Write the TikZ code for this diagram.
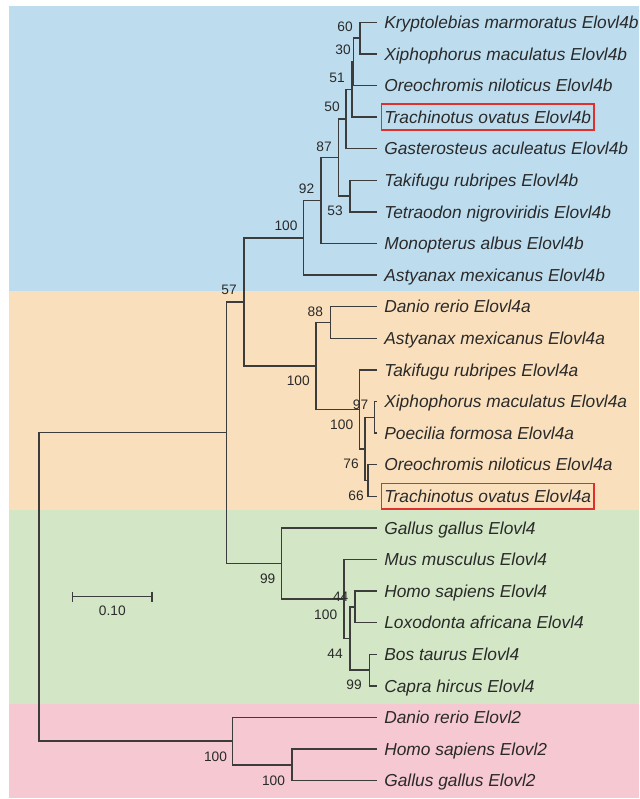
\documentclass[tikz,border=0pt]{standalone}
\usepackage{fontspec}
\setmainfont{Liberation Sans}
\usetikzlibrary{arrows.meta}

\definecolor{PTblue}{HTML}{BDDDEF}
\definecolor{PTorange}{HTML}{FADFBC}
\definecolor{PTgreen}{HTML}{D3E7C6}
\definecolor{PTpink}{HTML}{F5C8D2}
\definecolor{PTline}{HTML}{3C3C3C}
\definecolor{PTtext}{HTML}{2A2A2A}
\definecolor{PTred}{HTML}{E0302C}

\tikzset{PTbr/.style={draw=PTline,line width=1.1pt},
         PTleaf/.style={anchor=west,xshift=3.4pt,inner xsep=1.9pt,inner ysep=4.7pt,
                        text height=9.4pt,text depth=0pt,text=PTtext,
                        font=\fontsize{13}{15}\selectfont\itshape},
         PTbs/.style={inner sep=0pt,text=PTtext,font=\fontsize{10.3}{12}\selectfont},
         PTbox/.style={draw=PTred,line width=1.4pt}}

\begin{document}
\begin{tikzpicture}[x=0.75pt,y=-0.75pt]
  \useasboundingbox (0,0) rectangle (639,799);
  % coloured groups
  \fill[PTblue] (9,6) rectangle (639,291);
  \fill[PTorange] (9,291) rectangle (639,510);
  \fill[PTgreen] (9,510) rectangle (639,704);
  \fill[PTpink] (9,704) rectangle (639,798);
  % leaves
  \foreach \n [count=\i] in {Kryptolebias marmoratus Elovl4b, Xiphophorus maculatus Elovl4b,
      Oreochromis niloticus Elovl4b, Trachinotus ovatus Elovl4b, Gasterosteus aculeatus Elovl4b,
      Takifugu rubripes Elovl4b, Tetraodon nigroviridis Elovl4b, Monopterus albus Elovl4b,
      Astyanax mexicanus Elovl4b, Danio rerio Elovl4a, Astyanax mexicanus Elovl4a,
      Takifugu rubripes Elovl4a, Xiphophorus maculatus Elovl4a, Poecilia formosa Elovl4a,
      Oreochromis niloticus Elovl4a, Trachinotus ovatus Elovl4a, Gallus gallus Elovl4,
      Mus musculus Elovl4, Homo sapiens Elovl4, Loxodonta africana Elovl4, Bos taurus Elovl4,
      Capra hircus Elovl4, Danio rerio Elovl2, Homo sapiens Elovl2, Gallus gallus Elovl2} {
    \pgfmathsetmacro\yy{22.3+(\i-1)*31.6}
    \coordinate (tip\i) at (377,\yy);
    \node[PTleaf] (l\i) at (tip\i) {\n};
  }
  \draw[PTbox] (l4.south west) rectangle (l4.north east);
  \draw[PTbox] (l16.south west) rectangle (l16.north east);
  % internal nodes
  \coordinate (kx) at (360,38.1);
  \coordinate (kxo) at (353.3,61.8);
  \coordinate (kxot) at (352,89.45);
  \coordinate (perc) at (346,119.1);
  \coordinate (tetr) at (350,196.1);
  \coordinate (acan) at (338.5,157.6);
  \coordinate (mono) at (321,200.55);
  \coordinate (cladeb) at (303.3,237.8);
  \coordinate (cypr) at (330.7,322.5);
  \coordinate (xp) at (374.5,417.3);
  \coordinate (ot) at (368,480.5);
  \coordinate (xpot) at (365,448.9);
  \coordinate (taka) at (359.5,409.4);
  \coordinate (cladea) at (316,366);
  \coordinate (fish) at (244,301.9);
  \coordinate (hl) at (355,606.9);
  \coordinate (bc) at (369.3,670.1);
  \coordinate (hlbc) at (350,638.5);
  \coordinate (mamm) at (344,599);
  \coordinate (tetrap) at (281.7,563.5);
  \coordinate (elovlf) at (226.7,432.7);
  \coordinate (hg) at (291.8,764.9);
  \coordinate (elovlt) at (232.7,741.2);
  \coordinate (root) at (38.8,587);
  % branches
  \foreach \p/\c in {kx/tip1, kx/tip2, kxo/kx, kxo/tip3, kxot/kxo, kxot/tip4, perc/kxot, perc/tip5,
      tetr/tip6, tetr/tip7, acan/perc, acan/tetr, mono/acan, mono/tip8, cladeb/mono, cladeb/tip9,
      cypr/tip10, cypr/tip11, xp/tip13, xp/tip14, ot/tip15, ot/tip16, xpot/xp, xpot/ot,
      taka/tip12, taka/xpot, cladea/cypr, cladea/taka, fish/cladeb, fish/cladea,
      hl/tip19, hl/tip20, bc/tip21, bc/tip22, hlbc/hl, hlbc/bc, mamm/tip18, mamm/hlbc,
      tetrap/tip17, tetrap/mamm, elovlf/fish, elovlf/tetrap, hg/tip24, hg/tip25,
      elovlt/tip23, elovlt/hg, root/elovlf, root/elovlt}
    \draw[PTbr] (\p) |- (\c);
  % bootstrap values
  \node[PTbs] (bkx) at (345,27) {60};
  \node[PTbs] (bkxo) at (343,50) {30};
  \node[PTbs] (bkxot) at (337,78) {51};
  \node[PTbs] (bperc) at (332,107) {50};
  \node[PTbs] (bacan) at (324,146.5) {87};
  \node[PTbs] (btetr) at (335,211) {53};
  \node[PTbs] (bmono) at (306.5,189) {92};
  \node[PTbs] (bcladeb) at (286,226) {100};
  \node[PTbs] (bfish) at (229,290) {57};
  \node[PTbs] (bcypr) at (315.3,311.7) {88};
  \node[PTbs] (bcladea) at (298.3,380.7) {100};
  \node[PTbs] (bxp) at (360.5,405) {97};
  \node[PTbs] (btaka) at (341.7,424.5) {100};
  \node[PTbs] (bxpot) at (351,464) {76};
  \node[PTbs] (bot) at (356,496) {66};
  \node[PTbs] (btetrap) at (267.7,579) {99};
  \node[PTbs] (bhl) at (340.7,596.7) {44};
  \node[PTbs] (bmamm) at (325.7,614.3) {100};
  \node[PTbs] (bhlbc) at (335,654) {44};
  \node[PTbs] (bbc) at (354,685) {99};
  \node[PTbs] (belovlt) at (215.5,756.7) {100};
  \node[PTbs] (bhg) at (273.5,780.7) {100};
  % scale bar
  \coordinate (sbl) at (71.7,596.7);
  \coordinate (sbr) at (152.7,596.7);
  \draw[PTbr,{Bar[width=7.5pt]}-{Bar[width=7.5pt]}] (sbl) -- (sbr);
  \node[PTbs] (sblab) at (112.3,610.7) {0.10};
\end{tikzpicture}
\end{document}
